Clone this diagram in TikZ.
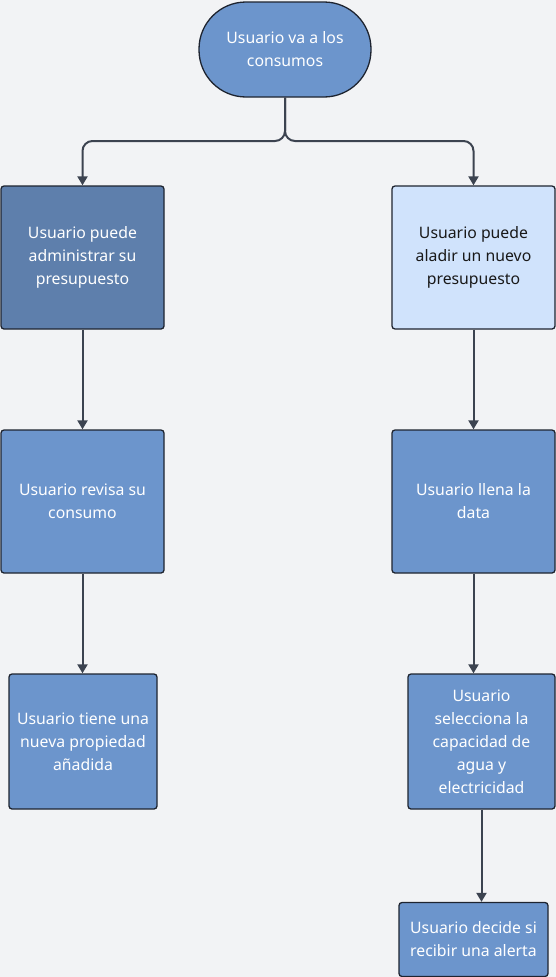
\documentclass[tikz,border=0pt]{standalone}
\usepackage{fontspec}
\setmainfont{Noto Sans}
\usetikzlibrary{arrows.meta}
\definecolor{bgc}{HTML}{F2F3F5}
\definecolor{midc}{HTML}{6C95CC}
\definecolor{darkc}{HTML}{5E7FAC}
\definecolor{lightc}{HTML}{D0E3FC}
\definecolor{edgec}{HTML}{1E2430}
\definecolor{linec}{HTML}{3C4350}
\tikzset{
  box/.style={draw=edgec, line width=1.3pt, rounded corners=3pt, fill=midc,
    text=white, align=center, inner sep=0pt,
    font=\fontsize{15.8pt}{23pt}\selectfont},
  conn/.style={draw=linec, line width=2pt, -{Triangle[width=10pt,length=9pt]}},
}
\begin{document}
\begin{tikzpicture}[x=1pt,y=-1pt]
\fill[bgc] (0,0) rectangle (556,977);
\useasboundingbox (0,0) rectangle (556,977);
\node[box, rounded corners=47pt, minimum width=172pt, minimum height=95pt] (top) at (285,49.5) {Usuario va a los\\consumos};
\node[box, fill=darkc, minimum width=163pt, minimum height=143pt] (L1) at (82.5,257.5) {Usuario puede\\administrar su\\presupuesto};
\node[box, fill=lightc, text=black!90, minimum width=163pt, minimum height=143pt] (R1) at (473.5,257.5) {Usuario puede\\aladir un nuevo\\presupuesto};
\node[box, minimum width=163pt, minimum height=143pt] (L2) at (82.5,501.5) {Usuario revisa su\\consumo};
\node[box, minimum width=163pt, minimum height=143pt] (R2) at (473.5,501.5) {Usuario llena la\\data};
\node[box, minimum width=148pt, minimum height=135pt] (L3) at (83,741.5) {Usuario tiene una\\nueva propiedad\\añadida};
\node[box, minimum width=147pt, minimum height=135pt] (R3) at (481.5,741.5) {Usuario\\selecciona la\\capacidad de\\agua y\\electricidad};
\node[box, minimum width=149pt, minimum height=74pt] (R4) at (473.5,939.5) {Usuario decide si\\recibir una alerta};
\coordinate (jl) at (82.5,141);
\coordinate (jr) at (473.5,141);
\draw[conn, rounded corners=10pt] (top.south) |- (jl) -- (L1.north);
\draw[conn, rounded corners=10pt] (top.south) |- (jr) -- (R1.north);
\draw[conn] (L1.south) -- (L2.north);
\draw[conn] (L2.south) -- (L2.south |- L3.north);
\draw[conn] (R1.south) -- (R2.north);
\draw[conn] (R2.south) -- (R2.south |- R3.north);
\draw[conn] (R3.south) -- (R3.south |- R4.north);
\end{tikzpicture}
\end{document}
